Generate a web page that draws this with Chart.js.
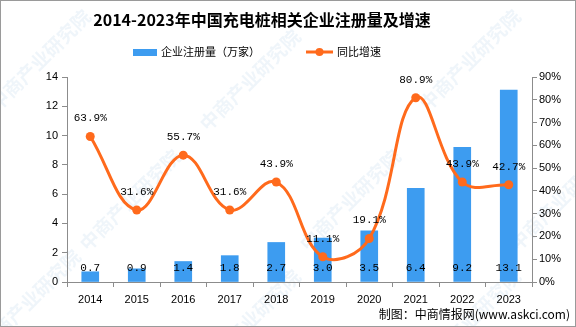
<!DOCTYPE html>
<html>
<head>
<meta charset="utf-8">
<script src="https://cdn.jsdelivr.net/npm/chart.js@4.4.1/dist/chart.umd.min.js"></script>
<style>
    html, body { margin: 0; padding: 0; background: #ffffff; }
    #wrap { width: 576px; height: 327px; }
</style>
</head>
<body>
<div id="wrap"><canvas id="chart" width="576" height="327"></canvas></div>
<script>
// ==========================================
// DATA
// ==========================================
const years = ['2014', '2015', '2016', '2017', '2018', '2019', '2020', '2021', '2022', '2023'];
const registrations = [0.7, 0.9, 1.4, 1.8, 2.7, 3.0, 3.5, 6.4, 9.2, 13.1];   // 万家
const growthRates = [63.9, 31.6, 55.7, 31.6, 43.9, 11.1, 19.1, 80.9, 43.9, 42.7]; // %
const leftTicks = [0, 2, 4, 6, 8, 10, 12, 14];
const rightTicks = [0, 10, 20, 30, 40, 50, 60, 70, 80, 90];

const BAR_COLOR = '#3d9cf0';
const LINE_COLOR = '#ff6a1c';
const AXIS_COLOR = '#8c8c8c';
const MONO = "'Liberation Mono', 'DejaVu Sans Mono', monospace";
const SANS = "'Liberation Sans', 'DejaVu Sans', sans-serif";
const CJK = "'Noto Sans CJK SC', sans-serif";

// ==========================================
// PLUGINS
// ==========================================

// white background + watermark
const backgroundPlugin = {
    id: 'background',
    beforeDraw(chart) {
        const ctx = chart.ctx;
        ctx.save();
        ctx.fillStyle = '#ffffff';
        ctx.fillRect(0, 0, chart.width, chart.height);
        ctx.font = 'bold 19px ' + CJK;
        ctx.fillStyle = 'rgba(120, 170, 215, 0.12)';
        ctx.textAlign = 'center';
        ctx.textBaseline = 'middle';
        const spots = [[40, 60], [250, 80], [470, 60], [130, 200], [350, 200], [560, 200], [30, 300], [250, 320], [470, 320]];
        spots.forEach(function(p) {
            ctx.save();
            ctx.translate(p[0], p[1]);
            ctx.rotate(-Math.PI / 4);
            ctx.fillText('中商产业研究院', 0, 0);
            ctx.restore();
        });
        ctx.restore();
    }
};

// value labels for bars and line
const labelsPlugin = {
    id: 'valueLabels',
    afterDatasetsDraw(chart) {
        const ctx = chart.ctx;
        ctx.save();
        ctx.fillStyle = '#000000';
        ctx.font = '11px ' + MONO;
        ctx.textAlign = 'center';
        ctx.textBaseline = 'middle';
        const bottom = chart.scales.x.top;
        chart.getDatasetMeta(1).data.forEach(function(bar, i) {
            ctx.fillText(registrations[i].toFixed(1), bar.x, bottom - 14);
        });
        chart.getDatasetMeta(0).data.forEach(function(pt, i) {
            ctx.fillText(growthRates[i].toFixed(1) + '%', pt.x, pt.y - 18);
        });
        ctx.restore();
    }
};

// title, legend, source, frame
const decorPlugin = {
    id: 'decor',
    afterDraw(chart) {
        const ctx = chart.ctx;
        ctx.save();
        ctx.fillStyle = '#000000';
        ctx.textBaseline = 'middle';
        ctx.textAlign = 'center';
        ctx.font = 'bold 16px ' + CJK;
        ctx.fillText('2014-2023年中国充电桩相关企业注册量及增速', 262, 20);

        // legend
        ctx.textAlign = 'left';
        ctx.font = '11px ' + CJK;
        ctx.fillStyle = BAR_COLOR;
        ctx.fillRect(133, 49, 24, 7);
        ctx.fillStyle = '#000000';
        ctx.fillText('企业注册量（万家）', 161, 52);

        ctx.strokeStyle = LINE_COLOR;
        ctx.lineWidth = 3;
        ctx.beginPath();
        ctx.moveTo(306, 52);
        ctx.lineTo(333, 52);
        ctx.stroke();
        ctx.fillStyle = LINE_COLOR;
        ctx.beginPath();
        ctx.arc(319.5, 52, 4, 0, Math.PI * 2);
        ctx.fill();
        ctx.fillStyle = '#000000';
        ctx.fillText('同比增速', 337, 52);

        // source
        ctx.textAlign = 'right';
        ctx.font = '12px ' + CJK;
        ctx.fillText('制图：中商情报网(www.askci.com)', 570, 314);

        // frame
        ctx.strokeStyle = '#9a9a9a';
        ctx.lineWidth = 1;
        ctx.strokeRect(0.5, 0.5, chart.width - 1, chart.height - 1);
        ctx.restore();
    }
};

// ==========================================
// CHART
// ==========================================
const ctx = document.getElementById('chart').getContext('2d');

new Chart(ctx, {
    type: 'bar',
    data: {
        labels: years,
        datasets: [{
            type: 'line',
            label: '同比增速',
            data: growthRates,
            yAxisID: 'y1',
            borderColor: LINE_COLOR,
            backgroundColor: LINE_COLOR,
            borderWidth: 3,
            tension: 0.4,
            pointRadius: 4.5,
            pointHoverRadius: 4.5,
            pointBackgroundColor: LINE_COLOR,
            pointBorderWidth: 0,
            order: 0
        }, {
            type: 'bar',
            label: '企业注册量（万家）',
            data: registrations,
            yAxisID: 'y',
            backgroundColor: BAR_COLOR,
            barThickness: 17,
            order: 1
        }]
    },
    options: {
        responsive: false,
        animation: false,
        layout: { padding: { top: 77, left: 0, right: 0, bottom: 0 } },
        plugins: {
            legend: { display: false },
            title: { display: false },
            tooltip: { enabled: false }
        },
        scales: {
            x: {
                grid: { display: true, drawOnChartArea: false, offset: true, color: AXIS_COLOR, tickLength: 5 },
                border: { color: AXIS_COLOR },
                ticks: { color: '#000000', font: { family: SANS, size: 11 }, padding: 6 },
                afterFit(scale) { scale.height = 45; }
            },
            y: {
                position: 'left',
                min: 0,
                max: 14,
                afterBuildTicks(scale) { scale.ticks = leftTicks.map(v => ({ value: v })); },
                grid: { drawOnChartArea: false, color: AXIS_COLOR, tickLength: 5 },
                border: { color: AXIS_COLOR },
                ticks: { color: '#000000', font: { family: SANS, size: 11 }, padding: 4 },
                afterFit(scale) { scale.width = 67; }
            },
            y1: {
                position: 'right',
                min: 0,
                max: 90,
                afterBuildTicks(scale) { scale.ticks = rightTicks.map(v => ({ value: v })); },
                grid: { drawOnChartArea: false, color: AXIS_COLOR, tickLength: 5 },
                border: { color: AXIS_COLOR },
                ticks: {
                    color: '#000000',
                    font: { family: SANS, size: 11 },
                    padding: 2,
                    callback: function(value) { return value + '%'; }
                },
                afterFit(scale) { scale.width = 44; }
            }
        }
    },
    plugins: [backgroundPlugin, labelsPlugin, decorPlugin]
});
</script>
</body>
</html>
